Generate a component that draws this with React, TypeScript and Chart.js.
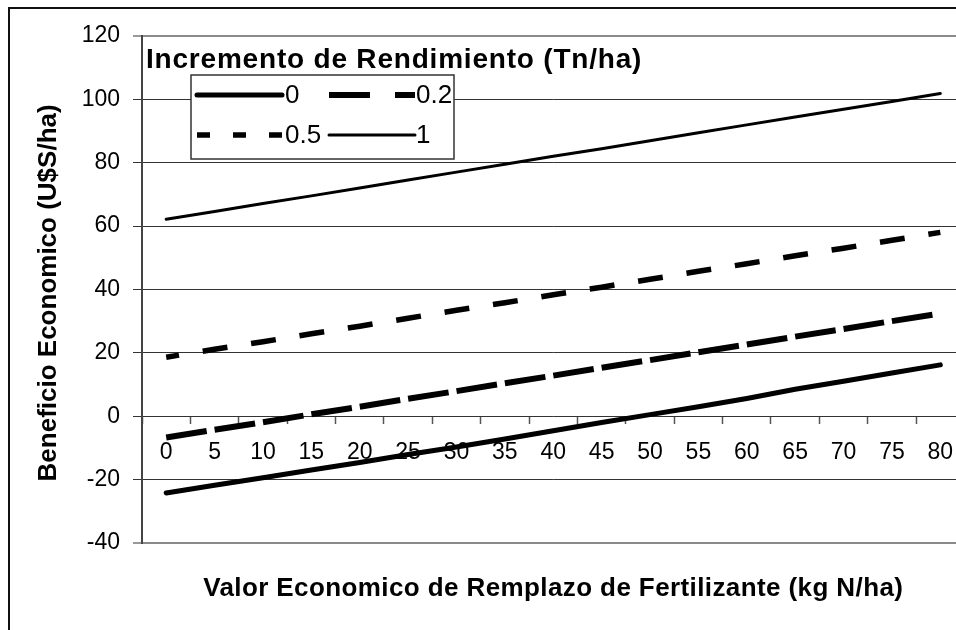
import React, { useEffect, useRef } from 'react';
import { Chart, registerables } from 'chart.js';

Chart.register(...registerables);

// ---- Data ----
const categories = ['0', '5', '10', '15', '20', '25', '30', '35', '40', '45', '50', '55', '60', '65', '70', '75', '80'];
const seriesLabels = ['0', '0.2', '0.5', '1'];
const inc0 = [-24.2, -21.8, -19.4, -17.0, -14.6, -12.1, -9.7, -7.2, -4.6, -2.0, 0.5, 3.0, 5.6, 8.5, 11.0, 13.6, 16.2];
const inc02 = [-6.7, -4.3, -1.9, 0.6, 3.0, 5.5, 7.9, 10.4, 12.8, 15.3, 17.7, 20.2, 22.6, 25.1, 27.5, 30.0, 32.4];
const inc05 = [18.6, 21.1, 23.5, 26.0, 28.4, 30.9, 33.4, 35.8, 38.3, 40.7, 43.2, 45.7, 48.1, 50.6, 53.0, 55.5, 58.0];
const inc1 = [62.1, 64.6, 67.1, 69.5, 72.0, 74.5, 77.0, 79.5, 82.0, 84.4, 86.9, 89.4, 91.9, 94.4, 96.8, 99.3, 101.8];
const yMin = -40;
const yMax = 120;
const yStep = 20;
const legendTitle = 'Incremento de Rendimiento (Tn/ha)';
const xTitle = 'Valor Economico de Remplazo de Fertilizante (kg N/ha)';
const yTitle = 'Beneficio Economico (U$S/ha)';

const FONT = '"Liberation Sans", Arial, Helvetica, sans-serif';

const legendDashes: number[][] = [[], [41, 25], [13, 23], []];

const customPlugin = {
  id: 'customText',
  afterDraw(chart: any) {
    const ctx: CanvasRenderingContext2D = chart.ctx;
    const area = chart.chartArea;
    // Y title
    ctx.save();
    ctx.fillStyle = '#000';
    ctx.font = `bold 26px ${FONT}`;
    ctx.translate(39, (area.top + area.bottom) / 2 + 3.5);
    ctx.rotate(-Math.PI / 2);
    ctx.textAlign = 'center';
    ctx.textBaseline = 'middle';
    ctx.fillText(yTitle, 0, 0);
    ctx.restore();

    // X title
    ctx.save();
    ctx.fillStyle = '#000';
    ctx.font = `bold 26px ${FONT}`;
    (ctx as any).letterSpacing = '0.4px';
    ctx.textAlign = 'center';
    ctx.textBaseline = 'alphabetic';
    ctx.fillText(xTitle, (area.left + area.right) / 2, 587);
    ctx.restore();

    // Legend title
    ctx.save();
    ctx.fillStyle = '#000';
    ctx.font = `bold 28px ${FONT}`;
    (ctx as any).letterSpacing = '0.8px';
    ctx.textAlign = 'left';
    ctx.textBaseline = 'alphabetic';
    ctx.fillText(legendTitle, 136, 58.7);
    ctx.restore();

    // Legend box
    ctx.save();
    ctx.fillStyle = '#fff';
    ctx.strokeStyle = '#333';
    ctx.lineWidth = 1.5;
    ctx.fillRect(181, 66, 263, 84);
    ctx.strokeRect(181, 66, 263, 84);
    const colSample = [[187, 272], [319, 405]];
    const colText = [275, 406];
    const rowY = [86, 126];
    chart.data.datasets.forEach((ds: any, i: number) => {
      const col = i % 2;
      const row = Math.floor(i / 2);
      ctx.save();
      ctx.strokeStyle = ds.borderColor;
      ctx.lineWidth = ds.borderWidth;
      ctx.lineCap = legendDashes[i].length ? 'butt' : 'round';
      ctx.setLineDash(legendDashes[i]);
      ctx.beginPath();
      ctx.moveTo(colSample[col][0], rowY[row]);
      ctx.lineTo(colSample[col][1], rowY[row]);
      ctx.stroke();
      ctx.restore();
      ctx.fillStyle = '#000';
      ctx.font = `26px ${FONT}`;
      ctx.textAlign = 'left';
      ctx.textBaseline = 'middle';
      ctx.fillText(ds.label, colText[col], rowY[row] + 1);
    });
    ctx.restore();
  },
};

const CANVAS_W = 1000;
const CANVAS_H = 660;

export default function App() {
  const ref = useRef<HTMLCanvasElement | null>(null);
  useEffect(() => {
    if (!ref.current) return;
    const chart = new Chart(ref.current, {
      type: 'line',
      data: {
        labels: categories,
        datasets: [
          { label: seriesLabels[0], data: inc0, borderColor: '#000', borderWidth: 5, borderCapStyle: 'round', pointRadius: 0, tension: 0, fill: false },
          { label: seriesLabels[1], data: inc02, borderColor: '#000', borderWidth: 6, borderDash: [41, 8], borderCapStyle: 'butt', pointRadius: 0, tension: 0, fill: false },
          { label: seriesLabels[2], data: inc05, borderColor: '#000', borderWidth: 5.5, borderDash: [25, 24], borderDashOffset: 12, borderCapStyle: 'butt', pointRadius: 0, tension: 0, fill: false },
          { label: seriesLabels[3], data: inc1, borderColor: '#000', borderWidth: 3, borderCapStyle: 'round', pointRadius: 0, tension: 0, fill: false },
        ],
      },
      options: {
        responsive: false,
        maintainAspectRatio: false,
        animation: false,
        events: [],
        layout: { padding: { left: 0, top: 21, right: CANVAS_W - 954.5, bottom: CANVAS_H - 534 } },
        plugins: {
          legend: { display: false },
          tooltip: { enabled: false },
          title: { display: false },
        },
        scales: {
          x: {
            type: 'category',
            position: { y: 0 } as any,
            offset: true,
            grid: {
              offset: true,
              drawOnChartArea: false,
              drawTicks: true,
              tickLength: 8,
              tickColor: '#555',
              tickWidth: 1.5,
            },
            border: { display: false },
            ticks: {
              color: '#000',
              font: { family: FONT, size: 23 },
              padding: 15,
              maxRotation: 0,
              minRotation: 0,
              autoSkip: false,
            },
          },
          y: {
            type: 'linear',
            min: yMin,
            max: yMax,
            afterFit(scale: any) {
              scale.width = 132;
            },
            grid: {
              color: (c: any) => (c.tick && (c.tick.value === yMax || c.tick.value === yMin) ? '#8a8a8a' : '#333'),
              lineWidth: (c: any) => (c.tick && (c.tick.value === yMax || c.tick.value === yMin) ? 2 : 1),
              tickColor: '#333',
              tickLength: 9,
              tickWidth: 1,
            },
            border: { display: true, color: '#444', width: 2 },
            ticks: {
              stepSize: yStep,
              color: '#000',
              font: { family: FONT, size: 23 },
              padding: 13,
            },
          },
        },
      },
      plugins: [customPlugin],
    } as any);
    return () => chart.destroy();
  }, []);

  return (
    <div style={{ position: 'fixed', left: 8, top: 7, width: 948, height: 623, overflow: 'hidden', background: '#fff' }}>
      <div style={{ border: '2px solid #111', width: CANVAS_W, height: CANVAS_H, background: '#fff' }}>
        <canvas ref={ref} width={CANVAS_W} height={CANVAS_H} style={{ display: 'block', width: CANVAS_W, height: CANVAS_H }} />
      </div>
    </div>
  );
}
